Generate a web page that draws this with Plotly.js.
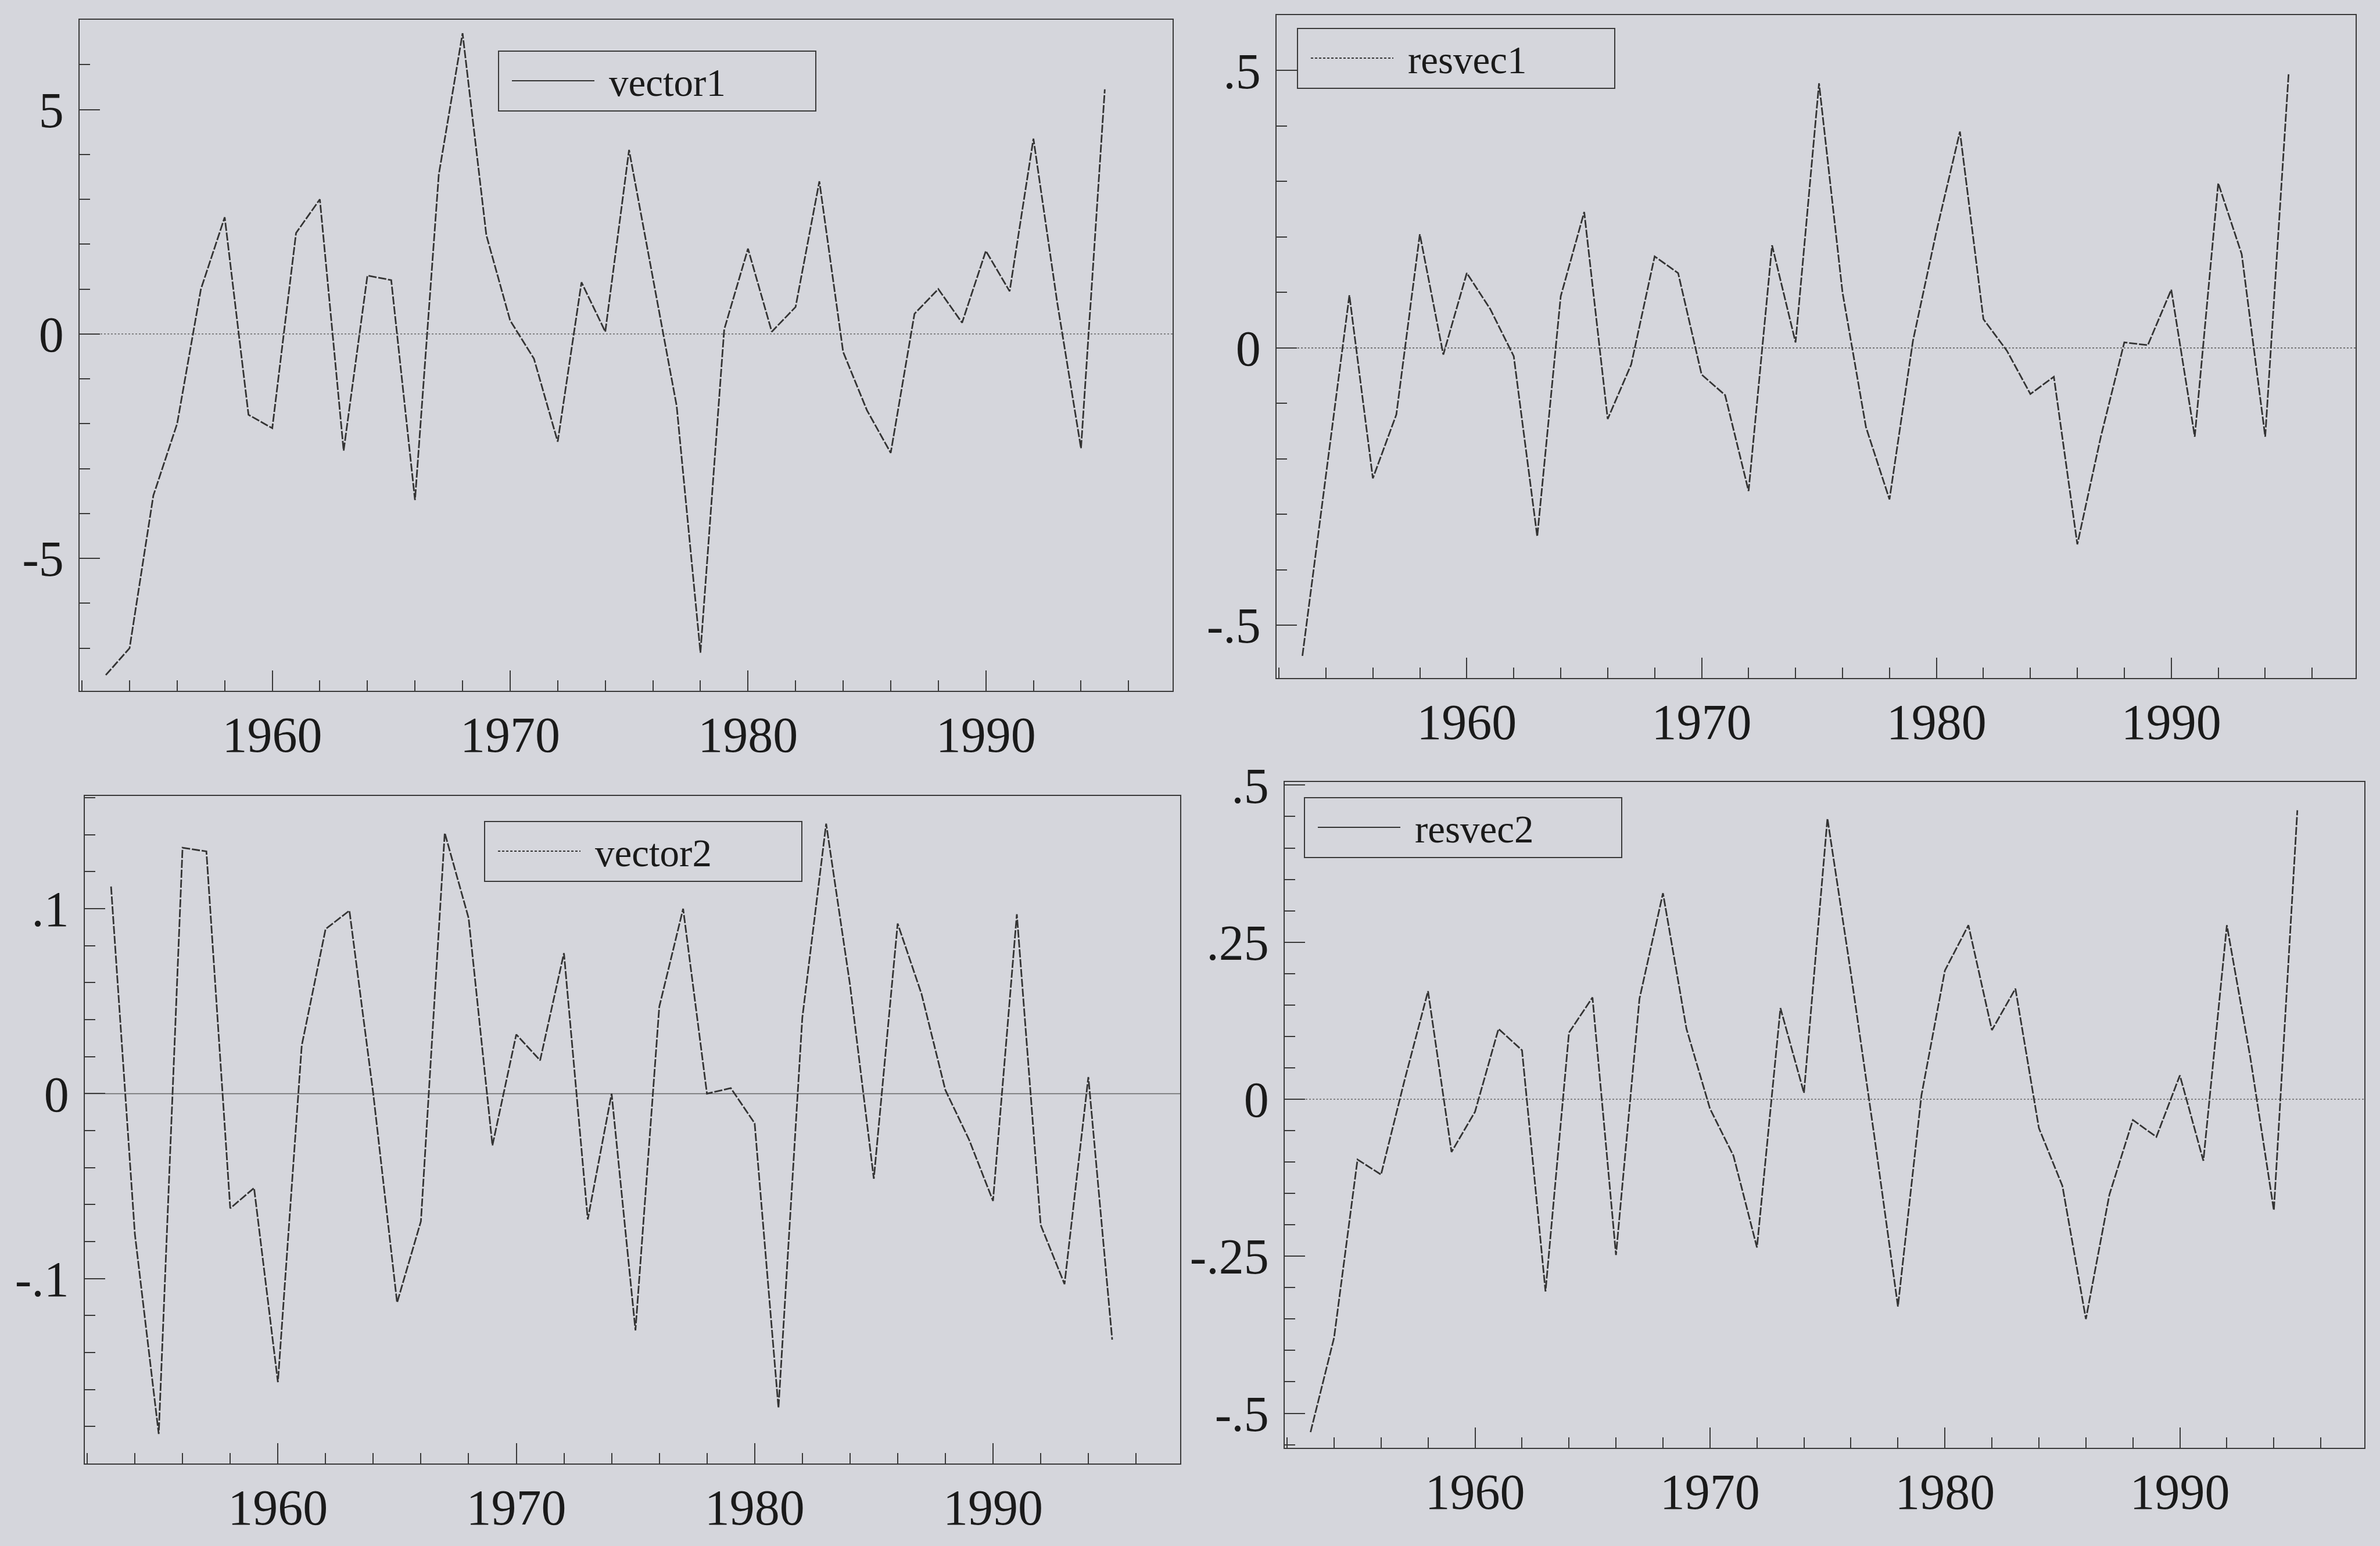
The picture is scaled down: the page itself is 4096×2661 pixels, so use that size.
<!DOCTYPE html>
<html>
<head>
<meta charset="utf-8">
<script src="https://cdn.plot.ly/plotly-3.0.1.min.js"></script>
<style>
html, body { margin: 0; padding: 0; background: #d5d6dc; }
#chart { width: 4096px; height: 2661px; }
</style>
</head>
<body>
<div id="chart"></div>
<script>
// ---------- data ----------
const years = [1953,1954,1955,1956,1957,1958,1959,1960,1961,1962,1963,1964,1965,1966,1967,1968,1969,1970,1971,1972,1973,1974,1975,1976,1977,1978,1979,1980,1981,1982,1983,1984,1985,1986,1987,1988,1989,1990,1991,1992,1993,1994,1995];

const vector1 = [-7.6,-7.0,-3.6,-2.0,1.0,2.6,-1.8,-2.1,2.25,3.0,-2.6,1.3,1.2,-3.7,3.55,6.7,2.2,0.3,-0.55,-2.4,1.15,0.05,4.1,1.25,-1.6,-7.1,0.1,1.9,0.05,0.6,3.4,-0.4,-1.7,-2.65,0.45,1.0,0.25,1.85,0.95,4.35,0.7,-2.55,5.45];

const resvec1 = [-0.555,-0.23,0.095,-0.235,-0.12,0.205,-0.012,0.135,0.07,-0.015,-0.34,0.093,0.245,-0.128,-0.03,0.165,0.135,-0.048,-0.085,-0.258,0.185,0.01,0.477,0.1,-0.143,-0.273,0.013,0.21,0.39,0.052,-0.005,-0.083,-0.052,-0.354,-0.16,0.01,0.005,0.105,-0.16,0.297,0.169,-0.16,0.496];

const vector2 = [0.112,-0.076,-0.184,0.133,0.131,-0.062,-0.051,-0.156,0.026,0.089,0.099,0.0,-0.113,-0.069,0.141,0.095,-0.028,0.032,0.018,0.076,-0.068,0.0,-0.128,0.047,0.10,0.0,0.003,-0.016,-0.170,0.041,0.146,0.059,-0.046,0.092,0.054,0.002,-0.025,-0.058,0.097,-0.071,-0.103,0.009,-0.133];

const resvec2 = [-0.53,-0.38,-0.096,-0.12,0.03,0.172,-0.084,-0.02,0.112,0.078,-0.306,0.106,0.162,-0.248,0.16,0.328,0.112,-0.015,-0.09,-0.236,0.145,0.01,0.447,0.2,-0.06,-0.33,0.006,0.205,0.277,0.11,0.176,-0.046,-0.138,-0.35,-0.152,-0.033,-0.06,0.038,-0.098,0.277,0.066,-0.177,0.46];

const seriesNames = ['vector1','resvec1','vector2','resvec2'];

const xTickVals = [1960,1970,1980,1990];
const xTickText = ['1960','1970','1980','1990'];
const y1TickVals = [-5,0,5];
const y1TickText = ['-5','0','5'];
const y2TickVals = [-0.5,0,0.5];
const y2TickText = ['-.5','0','.5'];
const y3TickVals = [-0.1,0,0.1];
const y3TickText = ['-.1','0','.1'];
const y4TickVals = [-0.5,-0.25,0,0.25,0.5];
const y4TickText = ['-.5','-.25','0','.25','.5'];

// ---------- styling ----------
const INK = '#1a1a1a';
const LINE = '#333333';
const FRAME = '#3a3a3a';
const BG = '#d5d6dc';
const tickFont = {family: 'Liberation Serif, Times New Roman, serif', size: 86, color: INK};
const legFont = {family: 'Liberation Serif, Times New Roman, serif', size: 67, color: INK};

function xAxis(domain, anchor) {
  return {
    domain: domain, anchor: anchor, range: [1951.9, 1997.85],
    tickmode: 'array', tickvals: xTickVals, ticktext: xTickText,
    ticks: 'inside', ticklen: 35, tickwidth: 2, tickcolor: FRAME,
    minor: {tickmode: 'linear', tick0: 1952, dtick: 2, ticks: 'inside', ticklen: 18, tickwidth: 2, tickcolor: FRAME, showgrid: false},
    showline: true, mirror: true, linecolor: FRAME, linewidth: 2,
    showgrid: false, zeroline: false, tickfont: tickFont,
    ticklabelstandoff: 0, fixedrange: true
  };
}
function yAxis(domain, anchor, range, vals, text, minorStep) {
  return {
    domain: domain, anchor: anchor, range: range,
    tickmode: 'array', tickvals: vals, ticktext: text,
    ticks: 'inside', ticklen: 35, tickwidth: 2, tickcolor: FRAME,
    minor: {tickmode: 'linear', tick0: 0, dtick: minorStep, ticks: 'inside', ticklen: 18, tickwidth: 2, tickcolor: FRAME, showgrid: false},
    showline: true, mirror: true, linecolor: FRAME, linewidth: 2,
    showgrid: false, zeroline: false, tickfont: tickFont,
    ticklabelstandoff: 8, fixedrange: true
  };
}

function lineTrace(y, name, xa, ya, legendId) {
  return {
    x: years, y: y, type: 'scatter', mode: 'lines', name: name,
    xaxis: xa, yaxis: ya, legend: legendId, showlegend: true,
    line: {color: LINE, width: 2.8, dash: '14px,3px'}
  };
}

const data = [
  lineTrace(vector1, seriesNames[0], 'x', 'y', 'legend'),
  lineTrace(resvec1, seriesNames[1], 'x2', 'y2', 'legend2'),
  lineTrace(vector2, seriesNames[2], 'x3', 'y3', 'legend3'),
  lineTrace(resvec2, seriesNames[3], 'x4', 'y4', 'legend4')
];

function legendBox(x, y) {
  return {
    x: x, y: y, xref: 'paper', yref: 'paper', xanchor: 'left', yanchor: 'top',
    orientation: 'h', entrywidth: 350, entrywidthmode: 'pixels',
    itemwidth: 179, bgcolor: 'rgba(0,0,0,0)', bordercolor: FRAME, borderwidth: 2,
    font: legFont
  };
}

function zeroLine(xref, yref, dash) {
  return {type: 'line', layer: 'below', xref: xref + ' domain', x0: 0, x1: 1,
          yref: yref, y0: 0, y1: 0, line: {color: '#666', width: 1.6, dash: dash}};
}

const layout = {
  width: 4096, height: 2661,
  paper_bgcolor: BG, plot_bgcolor: BG,
  margin: {l: 0, r: 0, t: 0, b: 0, pad: 0},
  showlegend: true,
  xaxis:  xAxis([0.03345, 0.49268], 'y'),
  yaxis:  yAxis([0.55318, 0.98722], 'x', [-7.95, 7.0], y1TickVals, y1TickText, 1),
  xaxis2: xAxis([0.53638, 0.98975], 'y2'),
  yaxis2: yAxis([0.56144, 0.99023], 'x2', [-0.595, 0.6], y2TickVals, y2TickText, 0.1),
  xaxis3: xAxis([0.03564, 0.49585], 'y3'),
  yaxis3: yAxis([0.05336, 0.48516], 'x3', [-0.2, 0.161], y3TickVals, y3TickText, 0.02),
  xaxis4: xAxis([0.53979, 0.99341], 'y4'),
  yaxis4: yAxis([0.06351, 0.49417], 'x4', [-0.555, 0.505], y4TickVals, y4TickText, 0.05),
  legend:  legendBox(0.20923, 0.96731),
  legend2: legendBox(0.54492, 0.98196),
  legend3: legendBox(0.20337, 0.46900),
  legend4: legendBox(0.54785, 0.48441),
  shapes: [
    zeroLine('x', 'y', 'dot'),
    zeroLine('x2', 'y2', 'dot'),
    zeroLine('x3', 'y3', 'solid'),
    zeroLine('x4', 'y4', 'dot')
  ]
};

Plotly.newPlot('chart', data, layout, {staticPlot: true, displayModeBar: false}).then(function (gd) {
  // legend samples: long line, solid or dotted as in the printed key
  const sampleStyle = {legend: 'none', legend2: '4px,3px', legend3: '4px,3px', legend4: 'none'};
  Object.keys(sampleStyle).forEach(function (id) {
    gd.querySelectorAll('g.' + id + ' .legendlines path').forEach(function (p) {
      p.setAttribute('d', 'M22,0h142');
      p.style.strokeDasharray = sampleStyle[id];
      p.style.strokeWidth = '2px';
    });
  });
});
</script>
</body>
</html>
